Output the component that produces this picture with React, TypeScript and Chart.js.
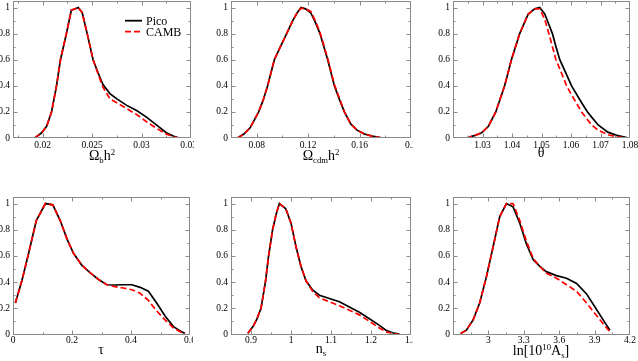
import React, { useEffect, useRef } from "react";
import { Chart, registerables } from "chart.js";

Chart.register(...registerables);

// ---------- shared y axis ----------
const yTicks = [0, 0.2, 0.4, 0.6, 0.8, 1];
const yTickLabels = ["0", "0.2", "0.4", "0.6", "0.8", "1"];

// ---------- Panel 1: Omega_b h^2 ----------
const obX = [0.0192, 0.0199, 0.0204, 0.0209, 0.0214, 0.0218, 0.0224, 0.0229, 0.0233, 0.0236, 0.024, 0.0245, 0.0251, 0.0256, 0.0261, 0.0268, 0.0275, 0.0285, 0.0295, 0.0305, 0.0315, 0.0325, 0.0332, 0.0338];
const obPico = [0.0, 0.04, 0.09, 0.2, 0.4, 0.6, 0.8, 0.98, 0.99, 1.0, 0.96, 0.8, 0.6, 0.5, 0.41, 0.34, 0.3, 0.25, 0.21, 0.16, 0.1, 0.04, 0.015, 0.0];
const obCamb = [0.0, 0.04, 0.09, 0.2, 0.4, 0.6, 0.8, 0.98, 0.99, 1.0, 0.96, 0.8, 0.6, 0.49, 0.39, 0.3, 0.27, 0.225, 0.18, 0.125, 0.075, 0.03, 0.01, 0.0];
const obTicks = [0.02, 0.025, 0.03, 0.035];
const obLabels = ["0.02", "0.025", "0.03", "0.035"];

// ---------- Panel 2: Omega_cdm h^2 ----------
const cdmX = [0.065, 0.07, 0.075, 0.0815, 0.085, 0.0885, 0.0937, 0.098, 0.1033, 0.108, 0.1115, 0.1145, 0.118, 0.122, 0.1255, 0.1292, 0.1352, 0.1404, 0.1445, 0.1482, 0.153, 0.158, 0.164, 0.17, 0.178];
const cdmPico = [0.0, 0.03, 0.08, 0.2, 0.29, 0.4, 0.6, 0.69, 0.8, 0.9, 0.96, 1.0, 0.99, 0.96, 0.89, 0.8, 0.6, 0.4, 0.29, 0.2, 0.11, 0.06, 0.03, 0.015, 0.0];
const cdmCamb = [0.0, 0.03, 0.08, 0.2, 0.29, 0.4, 0.6, 0.69, 0.8, 0.9, 0.96, 0.995, 0.99, 0.97, 0.9, 0.81, 0.61, 0.41, 0.3, 0.2, 0.11, 0.06, 0.03, 0.012, 0.0];
const cdmTicks = [0.08, 0.12, 0.16, 0.2];
const cdmLabels = ["0.08", "0.12", "0.16", "0.2"];

// ---------- Panel 3: theta ----------
const thX = [1.0245, 1.0275, 1.0297, 1.032, 1.0345, 1.0375, 1.0398, 1.0426, 1.0455, 1.0477, 1.0494, 1.0511, 1.0525, 1.0537, 1.0549, 1.0562, 1.0585, 1.0602, 1.0636, 1.0656, 1.067, 1.0692, 1.0725, 1.0755, 1.0789, 1.0797];
const thPico = [0, 0.02, 0.04, 0.09, 0.2, 0.4, 0.6, 0.8, 0.95, 0.99, 1.0, 0.95, 0.87, 0.8, 0.7, 0.6, 0.485, 0.4, 0.27, 0.2, 0.16, 0.1, 0.045, 0.02, 0.003, 0];
const thCamb = [0, 0.02, 0.04, 0.09, 0.2, 0.4, 0.6, 0.8, 0.95, 0.99, 0.99, 0.91, 0.8, 0.7, 0.6, 0.53, 0.4, 0.33, 0.2, 0.14, 0.1, 0.06, 0.025, 0.01, 0, 0];
const thTicks = [1.03, 1.04, 1.05, 1.06, 1.07, 1.08];
const thLabels = ["1.03", "1.04", "1.05", "1.06", "1.07", "1.08"];

// ---------- Panel 4: tau ----------
const tauX = [0.008, 0.03, 0.053, 0.079, 0.11, 0.135, 0.16, 0.183, 0.205, 0.233, 0.262, 0.29, 0.318, 0.346, 0.374, 0.403, 0.431, 0.459, 0.487, 0.516, 0.544, 0.572, 0.583];
const tauPico = [0.24, 0.41, 0.62, 0.87, 1.0, 0.99, 0.87, 0.73, 0.62, 0.53, 0.47, 0.42, 0.38, 0.378, 0.38, 0.38, 0.36, 0.33, 0.24, 0.14, 0.06, 0.02, 0.008];
const tauCamb = [0.24, 0.41, 0.62, 0.87, 1.0, 0.99, 0.87, 0.73, 0.62, 0.53, 0.47, 0.42, 0.38, 0.365, 0.355, 0.342, 0.315, 0.26, 0.18, 0.11, 0.05, 0.015, 0.008];
const tauTicks = [0, 0.2, 0.4, 0.6];
const tauLabels = ["0", "0.2", "0.4", "0.6"];

// ---------- Panel 5: n_s ----------
const nsX = [0.892, 0.905, 0.915, 0.925, 0.936, 0.944, 0.954, 0.963, 0.971, 0.987, 1.0, 1.0125, 1.025, 1.0375, 1.054, 1.071, 1.096, 1.121, 1.146, 1.171, 1.196, 1.221, 1.2375, 1.254, 1.271];
const nsPico = [0.01, 0.06, 0.12, 0.2, 0.4, 0.6, 0.8, 0.92, 1.0, 0.96, 0.85, 0.67, 0.52, 0.41, 0.34, 0.3, 0.275, 0.25, 0.21, 0.17, 0.12, 0.07, 0.033, 0.013, 0.003];
const nsCamb = [0.01, 0.06, 0.12, 0.2, 0.4, 0.6, 0.8, 0.92, 1.0, 0.96, 0.85, 0.67, 0.52, 0.41, 0.33, 0.28, 0.25, 0.22, 0.185, 0.15, 0.1, 0.05, 0.02, 0.008, 0.0];
const nsTicks = [0.9, 1.0, 1.1, 1.2, 1.3];
const nsLabels = ["0.9", "1", "1.1", "1.2", "1.3"];

// ---------- Panel 6: ln[10^10 A_s] ----------
const asX = [2.765, 2.813, 2.87, 2.926, 2.983, 3.04, 3.096, 3.153, 3.209, 3.266, 3.323, 3.38, 3.436, 3.49, 3.577, 3.662, 3.747, 3.832, 3.903, 3.974, 4.03];
const asPico = [0.008, 0.033, 0.11, 0.24, 0.44, 0.67, 0.9, 1.0, 0.975, 0.85, 0.69, 0.57, 0.52, 0.48, 0.45, 0.43, 0.39, 0.31, 0.21, 0.11, 0.033];
const asCamb = [0.008, 0.033, 0.11, 0.24, 0.44, 0.67, 0.9, 1.0, 1.0, 0.87, 0.71, 0.58, 0.52, 0.47, 0.43, 0.38, 0.33, 0.24, 0.16, 0.08, 0.02];
const asTicks = [3.0, 3.3, 3.6, 3.9, 4.2];
const asLabels = ["3", "3.3", "3.6", "3.9", "4.2"];

const FONT = "'Liberation Serif', 'Times New Roman', serif";
const FRAME = "#8a8a8a";
const RED = "#ff0000";

const framePlugin = {
  id: "xmgFrame",
  afterDatasetsDraw(chart: any) {
    const { ctx, chartArea: a, scales } = chart;
    const xs = scales.x;
    const ys = scales.y;
    ctx.save();
    ctx.strokeStyle = FRAME;
    ctx.lineWidth = 1;
    const L = Math.round(a.left) + 0.5;
    const R = Math.round(a.right) - 0.5;
    const T = Math.round(a.top) + 0.5;
    const B = Math.round(a.bottom) - 0.5;
    ctx.strokeRect(L, T, R - L, B - T);
    const major = 4;
    const minor = 2;
    const drawX = (v: number, len: number) => {
      const px = Math.round(xs.getPixelForValue(v)) + 0.5;
      if (px < L - 0.1 || px > R + 0.1) return;
      ctx.beginPath();
      ctx.moveTo(px, B);
      ctx.lineTo(px, B - len);
      ctx.moveTo(px, T);
      ctx.lineTo(px, T + len);
      ctx.stroke();
    };
    const drawY = (v: number, len: number) => {
      const py = Math.round(ys.getPixelForValue(v)) + 0.5;
      if (py < T - 0.1 || py > B + 0.1) return;
      ctx.beginPath();
      ctx.moveTo(L, py);
      ctx.lineTo(L + len, py);
      ctx.moveTo(R, py);
      ctx.lineTo(R - len, py);
      ctx.stroke();
    };
    const xt = xs.ticks.map((t: any) => t.value);
    const xstep = xt[1] - xt[0];
    for (let k = -4; k < xt.length * 2 + 4; k++) {
      const v = xt[0] + (k * xstep) / 2;
      if (v < xs.min - 1e-9 || v > xs.max + 1e-9) continue;
      drawX(v, k % 2 === 0 ? major : minor);
    }
    const yt = ys.ticks.map((t: any) => t.value);
    const ystep = yt[1] - yt[0];
    for (let k = 0; k < yt.length * 2 + 2; k++) {
      const v = yt[0] + (k * ystep) / 2;
      if (v < ys.min - 1e-9 || v > ys.max + 1e-9) continue;
      drawY(v, k % 2 === 0 ? major : minor);
    }
    ctx.restore();
  },
};

type PanelProps = {
  left: number;
  top: number;
  width: number;
  height: number;
  area: { l: number; r: number; t: number; b: number };
  xPad: number;
  xMin: number;
  xMax: number;
  xTicks: number[];
  xLabels: string[];
  xs: number[];
  pico: number[];
  camb: number[];
};

function Panel(p: PanelProps) {
  const ref = useRef<HTMLCanvasElement>(null);
  useEffect(() => {
    const yW = p.area.l - p.left;
    const padR = p.left + p.width - p.area.r;
    const padT = p.area.t - p.top;
    const xH = 20;
    const padB = p.top + p.height - p.area.b - xH;
    const tickFont = { family: FONT, size: 9.5 };
    const chart = new Chart(ref.current as HTMLCanvasElement, {
      type: "line",
      data: {
        datasets: [
          {
            label: "CAMB",
            data: p.xs.map((x, i) => ({ x, y: p.camb[i] })),
            borderColor: RED,
            borderWidth: 1.7,
            borderDash: [6, 3],
            pointRadius: 0,
            tension: 0,
            fill: false,
            order: 1,
          },
          {
            label: "Pico",
            data: p.xs.map((x, i) => ({ x, y: p.pico[i] })),
            borderColor: "#000000",
            borderWidth: 1.7,
            pointRadius: 0,
            tension: 0,
            fill: false,
            order: 2,
          },
        ],
      },
      options: {
        responsive: false,
        animation: false,
        devicePixelRatio: 1,
        events: [],
        layout: { padding: { left: 0, right: padR, top: padT, bottom: padB } },
        plugins: { legend: { display: false }, tooltip: { enabled: false } },
        scales: {
          x: {
            type: "linear",
            min: p.xMin,
            max: p.xMax,
            grid: { display: false, drawTicks: false },
            border: { display: false },
            ticks: {
              padding: p.xPad,
              autoSkip: false,
              maxRotation: 0,
              minRotation: 0,
              color: "#000",
              font: tickFont,
              callback: (_v: any, i: number) => p.xLabels[i] ?? "",
            },
            afterBuildTicks: (s: any) => {
              s.ticks = p.xTicks.map((v) => ({ value: v }));
            },
            afterFit: (s: any) => {
              s.height = xH;
              s.paddingLeft = 0;
              s.paddingRight = 0;
            },
          },
          y: {
            type: "linear",
            min: 0,
            max: 1.05,
            grid: { display: false, drawTicks: false },
            border: { display: false },
            ticks: {
              padding: 3,
              autoSkip: false,
              color: "#000",
              font: tickFont,
              callback: (_v: any, i: number) => yTickLabels[i] ?? "",
            },
            afterBuildTicks: (s: any) => {
              s.ticks = yTicks.map((v) => ({ value: v }));
            },
            afterFit: (s: any) => {
              s.width = yW;
              s.paddingTop = 0;
              s.paddingBottom = 0;
            },
          },
        },
      } as any,
      plugins: [framePlugin as any],
    });
    return () => chart.destroy();
  }, []);
  return (
    <canvas
      ref={ref}
      width={p.width}
      height={p.height}
      style={{ position: "absolute", left: p.left, top: p.top, width: p.width, height: p.height, display: "block" }}
    />
  );
}

const Sub = ({ children }: { children: React.ReactNode }) => (
  <span style={{ fontSize: "0.62em", position: "relative", top: "0.35em" }}>{children}</span>
);
const Sup = ({ children }: { children: React.ReactNode }) => (
  <span style={{ fontSize: "0.62em", position: "relative", top: "-0.55em" }}>{children}</span>
);

function Title({ cx, top, children }: { cx: number; top: number; children: React.ReactNode }) {
  return (
    <div
      style={{
        position: "absolute",
        left: cx - 60,
        top,
        width: 120,
        textAlign: "center",
        fontFamily: FONT,
        fontSize: 14,
        lineHeight: "14px",
        color: "#000",
        whiteSpace: "nowrap",
      }}
    >
      {children}
    </div>
  );
}

export default function App() {
  const topRow = { t: 1, b: 138 };
  const botRow = { t: 197, b: 334.5 };
  return (
    <div style={{ position: "absolute", left: 0, top: 0, width: 638, height: 361, overflow: "hidden", background: "#fff" }}>
      <Panel left={0} top={0} width={194} height={180} area={{ l: 13, r: 191, ...topRow }} xPad={1.5} xMin={0.017} xMax={0.035} xTicks={obTicks} xLabels={obLabels} xs={obX} pico={obPico} camb={obCamb} />
      <Panel left={200} top={0} width={213} height={180} area={{ l: 231, r: 411, ...topRow }} xPad={1.5} xMin={0.06} xMax={0.2} xTicks={cdmTicks} xLabels={cdmLabels} xs={cdmX} pico={cdmPico} camb={cdmCamb} />
      <Panel left={420} top={0} width={218} height={180} area={{ l: 453, r: 630, ...topRow }} xPad={1.5} xMin={1.02} xMax={1.08} xTicks={thTicks} xLabels={thLabels} xs={thX} pico={thPico} camb={thCamb} />
      <Panel left={0} top={180} width={193} height={181} area={{ l: 13, r: 190, ...botRow }} xPad={0} xMin={0} xMax={0.6} xTicks={tauTicks} xLabels={tauLabels} xs={tauX} pico={tauPico} camb={tauCamb} />
      <Panel left={200} top={180} width={213} height={181} area={{ l: 231, r: 411, ...botRow }} xPad={0} xMin={0.85} xMax={1.3} xTicks={nsTicks} xLabels={nsLabels} xs={nsX} pico={nsPico} camb={nsCamb} />
      <Panel left={420} top={180} width={218} height={181} area={{ l: 453, r: 630, ...botRow }} xPad={0} xMin={2.7} xMax={4.2} xTicks={asTicks} xLabels={asLabels} xs={asX} pico={asPico} camb={asCamb} />

      <Title cx={102} top={149}>
        Ω<Sub>b</Sub>h<Sup>2</Sup>
      </Title>
      <Title cx={321} top={149}>
        Ω<Sub>cdm</Sub>h<Sup>2</Sup>
      </Title>
      <Title cx={541} top={146}>θ</Title>
      <Title cx={101} top={343}>τ</Title>
      <Title cx={321} top={342}>
        n<Sub>s</Sub>
      </Title>
      <Title cx={541} top={344}>
        ln[10<Sup>10</Sup>A<Sub>s</Sub>]
      </Title>

      <svg style={{ position: "absolute", left: 124, top: 15 }} width={20} height={22}>
        <line x1={1} y1={5.7} x2={18} y2={5.7} stroke="#000" strokeWidth={1.8} />
        <line x1={1} y1={16.7} x2={18} y2={16.7} stroke={RED} strokeWidth={1.8} strokeDasharray="6 3" />
      </svg>
      <div style={{ position: "absolute", left: 146, top: 15, fontFamily: FONT, fontSize: 12, lineHeight: "12px", color: "#000", whiteSpace: "nowrap" }}>Pico</div>
      <div style={{ position: "absolute", left: 146, top: 26, fontFamily: FONT, fontSize: 12, lineHeight: "12px", color: "#000", whiteSpace: "nowrap" }}>CAMB</div>
    </div>
  );
}
